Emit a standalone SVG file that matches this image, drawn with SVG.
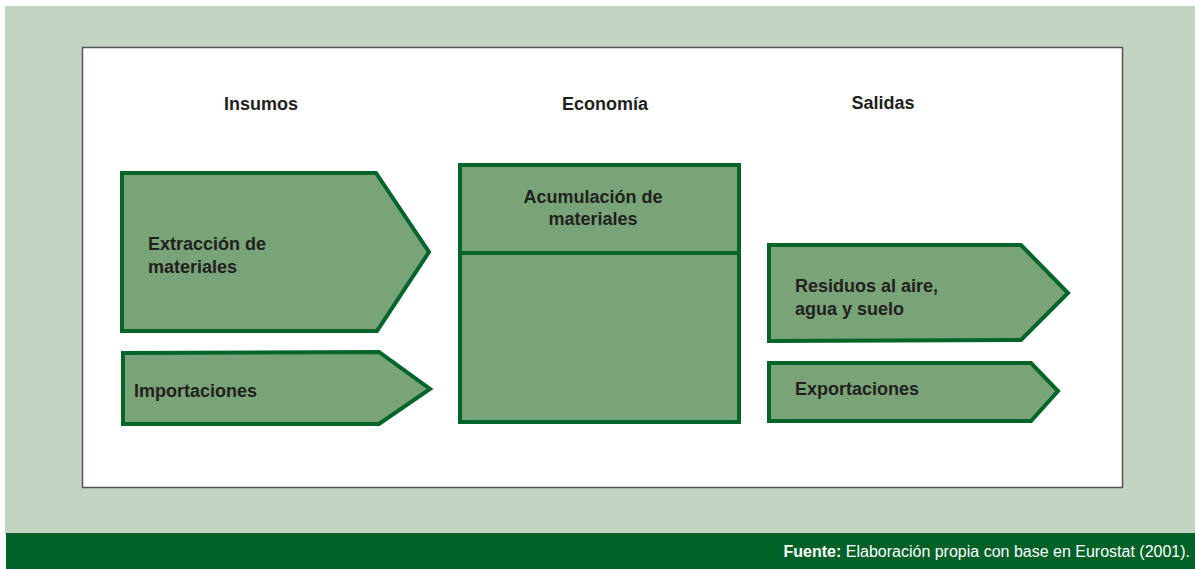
<svg xmlns="http://www.w3.org/2000/svg" width="1195" height="569" viewBox="0 0 1195 569">
<style>
.shape{fill:#78a478;stroke:#03652a;stroke-width:4;stroke-linejoin:miter}
.t{font-family:"Liberation Sans",Arial,sans-serif;font-weight:bold;font-size:18px;fill:#231f20}
.h{font-family:"Liberation Sans",Arial,sans-serif;font-weight:bold;font-size:18px;fill:#231f20;text-anchor:middle}
.f{font-family:"Liberation Sans",Arial,sans-serif;font-size:16px;fill:#ffffff;text-anchor:end}
</style>
<rect x="0" y="0" width="1195" height="569" fill="#ffffff"/>
<rect x="5" y="6" width="1190" height="528" fill="#c2d5c2"/>
<rect x="6" y="533" width="1189" height="36" fill="#006128"/>
<rect x="82.5" y="47.5" width="1040" height="440" fill="#ffffff" stroke="#555555" stroke-width="1.5"/>
<g id="headers">
<text class="h" x="261" y="110">Insumos</text>
<text class="h" x="605" y="110">Economía</text>
<text class="h" x="883" y="109">Salidas</text>
</g>
<g id="connectors"></g>
<g id="extraccion">
<polygon class="shape" points="122,173 376,173 429,252 377,331 122,331"/>
<text class="t" x="148" y="250">Extracción de</text>
<text class="t" x="148" y="273">materiales</text>
</g>
<g id="importaciones">
<polygon class="shape" points="123,353 379,352 430,389 379,424 123,424"/>
<text class="t" x="134" y="397">Importaciones</text>
</g>
<g id="economia">
<rect class="shape" x="460" y="165" width="279" height="257"/>
<line x1="460" y1="253" x2="739" y2="253" stroke="#03652a" stroke-width="4"/>
<text class="h" x="593" y="203">Acumulación de</text>
<text class="h" x="593" y="225">materiales</text>
</g>
<g id="residuos">
<polygon class="shape" points="769,245 1021,245 1068,293 1021,340 769,341"/>
<text class="t" x="795" y="292">Residuos al aire,</text>
<text class="t" x="795" y="315">agua y suelo</text>
</g>
<g id="exportaciones">
<polygon class="shape" points="769,363 1031,363 1058,391 1031,421 769,421"/>
<text class="t" x="795" y="395">Exportaciones</text>
</g>
<g id="footer">
<text class="f" x="1190" y="557"><tspan font-weight="bold">Fuente:</tspan> Elaboración propia con base en Eurostat (2001).</text>
</g>
</svg>
